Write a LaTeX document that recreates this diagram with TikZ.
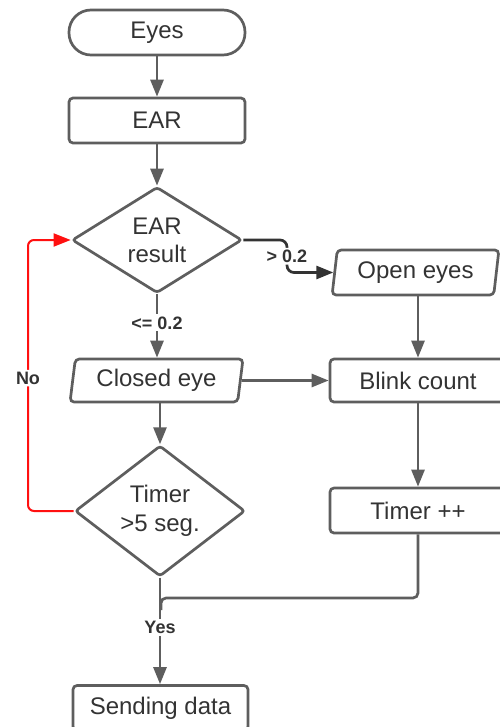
\documentclass[tikz,border=0pt]{standalone}
\usepackage{fontspec}
\setmainfont{Liberation Sans}
\usetikzlibrary{shapes.geometric,arrows.meta}
\definecolor{ln}{HTML}{5E5E5E}
\definecolor{tx}{HTML}{333333}
\definecolor{rd}{HTML}{FF1010}
\tikzset{
  base/.style={draw=ln, line width=2.7pt, text=tx, font=\fontsize{24}{28}\selectfont, inner sep=0pt, align=center},
  term/.style={base, rounded corners=22pt, minimum width=176pt, minimum height=45pt},
  proc/.style={base, rounded corners=4pt, minimum width=176pt, minimum height=45pt},
  dec/.style={base, diamond, rounded corners=3pt},
  io/.style={base, trapezium, trapezium left angle=80, trapezium right angle=100, trapezium stretches=true, rounded corners=4pt},
  conn/.style={draw=ln, line width=2.7pt, -{Triangle[length=17pt,width=13pt]}},
  lbl/.style={fill=white, text=tx, font=\fontsize{18}{20}\selectfont\bfseries, inner sep=2pt}
}
\begin{document}
\begin{tikzpicture}[x=1pt,y=-1pt]
\useasboundingbox[fill=white] (0,0) rectangle (499,727);
\node[term] (eyes) at (157,32.5) {Eyes};
\node[proc] (ear) at (157,120.5) {EAR};
\node[dec, minimum width=170pt, minimum height=106pt] (res) at (157,240) {EAR\\result};
\node[io, minimum width=173pt, minimum height=43pt] (closed) at (156.5,380.5) {Closed eye};
\node[io, minimum width=167pt, minimum height=45pt] (open) at (415.5,272.5) {Open eyes};
\node[proc, minimum height=43pt] (blink) at (418,380.5) {Blink count};
\node[dec, minimum width=170pt, minimum height=128pt, font=\fontsize{24}{29}\selectfont] (timer) at (160,511) {Timer\\>5 seg.};
\node[proc] (tpp) at (418,510.5) {Timer ++};
\node[proc, minimum width=175pt] (send) at (160.5,708) {Sending data};

\draw[conn] (eyes) -- (ear);
\draw[conn] (ear) -- (res);
\draw[conn] (res.south) -- node[lbl, pos=0.45] {<= 0.2} (res.south |- closed.north);
\draw[conn, draw=tx, rounded corners=7pt] (res.east) -- (287,240) -- node[lbl] {> 0.2} (287,272.5) -- (open.west);
\draw[conn] (blink.north |- open.south) -- (blink.north);
\draw[conn] (closed.east) -- (blink.west);
\draw[conn] (timer.north |- closed.south) -- (timer.north);
\draw[conn] (blink.south) -- (tpp.north);
\draw[draw=ln, line width=2.7pt, rounded corners=5pt] (tpp.south) -- (418,598) -- (161,598) -- (161,610);
\draw[conn] (timer.south) -- node[lbl, pos=0.47] {Yes} (timer.south |- send.north);
\draw[conn, draw=rd, line width=2pt, rounded corners=6pt] (timer.west) -- (28,511) -- node[lbl, pos=0.49] {No} (28,240) -- (res.west);
\end{tikzpicture}
\end{document}
